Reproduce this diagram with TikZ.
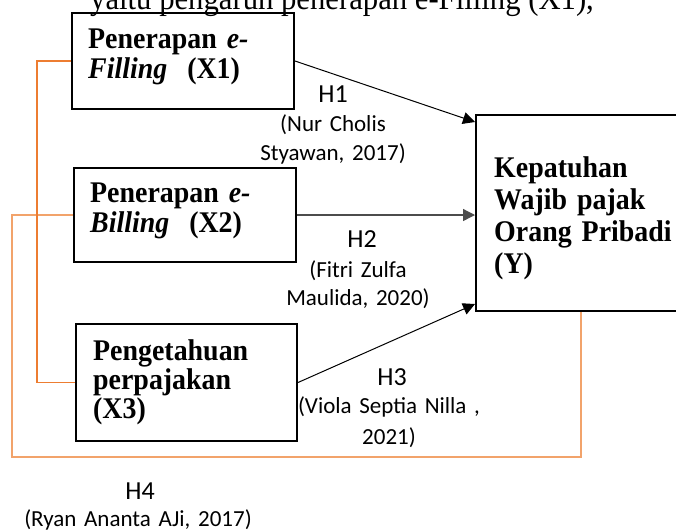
\documentclass[tikz,border=0pt]{standalone}
\usepackage{fontspec}
\setmainfont{Liberation Serif}
\newfontfamily\boxfont{Liberation Serif}[FakeStretch=0.93]
\newfontfamily\calib{Carlito}
\usetikzlibrary{arrows.meta,calc}
\definecolor{orangeA}{HTML}{ED7D31}
\definecolor{orangeB}{HTML}{F2A36B}
\begin{document}
\begin{tikzpicture}[x=1pt,y=-1pt,
  box/.style={draw,line width=2pt,inner sep=0pt,anchor=north west},
  boxtext/.style={anchor=base west,inner sep=0pt,align=left,text width=200pt,
    font=\boxfont\fontsize{30}{#1}\selectfont\bfseries},
  boxtext/.default=30,
  hlab/.style={font=\calib\fontsize{26}{29}\selectfont,anchor=base,inner sep=0pt},
  cite/.style={font=\calib\fontsize{23}{#1}\selectfont,anchor=base,inner sep=0pt,
    align=center,text width=300pt},
  cite/.default=29,
  arr/.style={-{Triangle[length=12pt,width=12pt]},line width=1pt},
  linkA/.style={draw=orangeA,line width=1.2pt},
  linkB/.style={draw=orangeB,line width=1.6pt}]
\useasboundingbox (0,0) rectangle (676,531);
\clip (0,0) rectangle (676,531);

% top cut-off text
\node[anchor=base west,inner sep=0pt,font=\boxfont\fontsize{33}{34}\selectfont] (top) at (90,9)
  {yaitu pengaruh penerapan e-Filling (X1),};

% boxes
\node[box,minimum width=222pt,minimum height=96pt] (x1) at (71,12) {};
\node[box,minimum width=222pt,minimum height=94pt] (x2) at (73,167) {};
\node[box,minimum width=221pt,minimum height=117pt] (x3) at (75,323) {};
\node[box,minimum width=240pt,minimum height=196pt] (y) at (475,114) {};

% box texts
\node[boxtext] (x1t) at (88,48) {Penerapan \textit{e-}\\\textit{Filling}\ \ (X1)};
\node[boxtext] (x2t) at (90,202) {Penerapan \textit{e-}\\\textit{Billing}\ \ (X2)};
\node[boxtext=29] (x3t) at (93,360) {Pengetahuan\\perpajakan\\(X3)};
\node[boxtext=32] (yt) at (494,177) {Kepatuhan\\Wajib pajak\\Orang Pribadi\\(Y)};

% orange links
\coordinate (lb) at (12,457);
\coordinate (rb) at (581,457);
\draw[linkB] (x2.west) -| (lb) -- (rb) -- (rb |- y.south);
\draw[linkA] (x1.west) -- ++(-34,0) |- (x3.west);

% arrows
\draw[arr] (x1.east) -- ($(y.north west)+(0,8)$);
\draw[arr,draw=black!70,fill=black,line width=1.3pt] (x2.east) -- (x2.east -| y.west);
\draw[arr] (x3.east) -- ($(y.south west)+(0,-8)$);

% labels
\node[hlab] (h1) at (333,102) {H1};
\node[cite] (c1) at (333,131) {(Nur Cholis\\Styawan, 2017)};
\node[hlab] (h2) at (362,247) {H2};
\node[cite=28] (c2) at (358,277) {(Fitri Zulfa\\Maulida, 2020)};
\node[hlab] (h3) at (392,385) {H3};
\node[cite=31] (c3) at (389,413) {(Viola Septia Nilla ,\\2021)};
\node[hlab] (h4) at (140,499) {H4};
\node[cite] (c4) at (138,526) {(Ryan Ananta AJi, 2017)};
\end{tikzpicture}
\end{document}
